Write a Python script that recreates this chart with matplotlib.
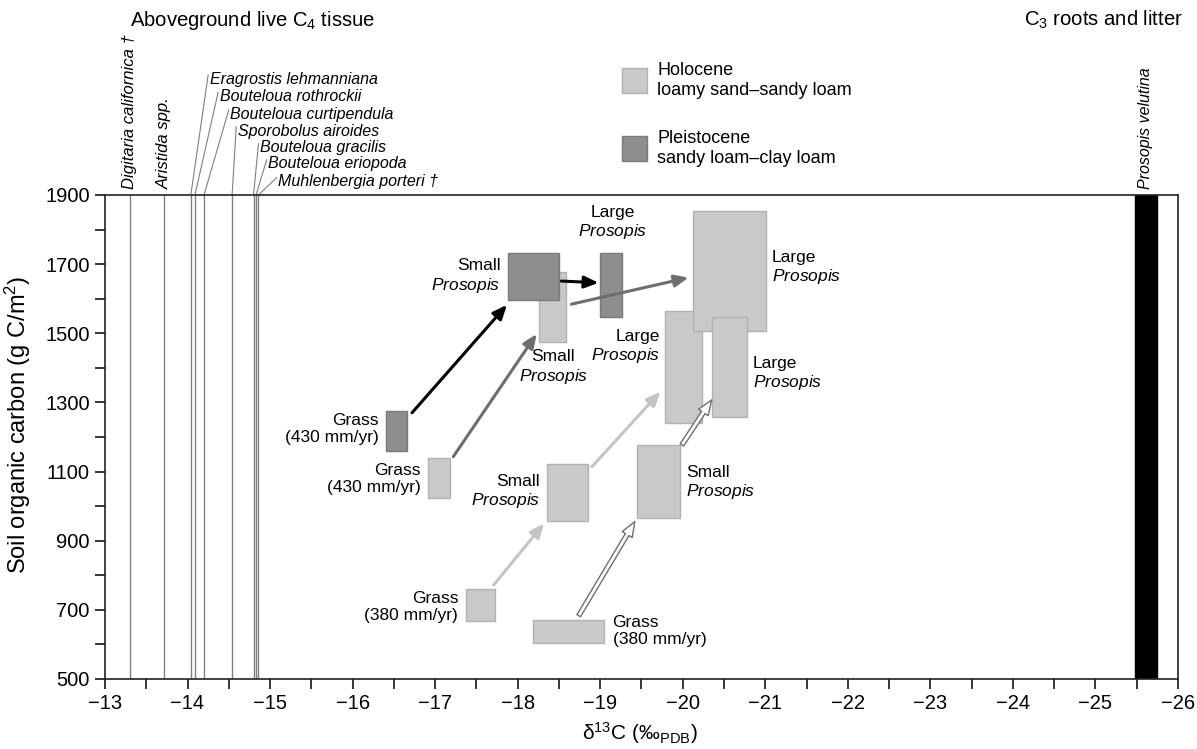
import matplotlib
matplotlib.use('Agg')
import matplotlib.pyplot as plt
from matplotlib.patches import Rectangle
from matplotlib.ticker import MultipleLocator, FixedLocator

plt.rcParams['font.family'] = ['Liberation Sans', 'DejaVu Sans']
plt.rcParams['mathtext.fontset'] = 'custom'
plt.rcParams['mathtext.rm'] = 'Liberation Sans'
plt.rcParams['mathtext.it'] = 'Liberation Sans:italic'

# C4 grass species: d13C line positions and label positions
species_names = ['Eragrostis lehmanniana', 'Bouteloua rothrockii', 'Bouteloua curtipendula',
                 'Sporobolus airoides', 'Bouteloua gracilis', 'Bouteloua eriopoda',
                 'Muhlenbergia porteri \u2020']
species_x = [-14.04, -14.09, -14.20, -14.54, -14.80, -14.83, -14.86]
species_label_x = [-14.27, -14.39, -14.52, -14.61, -14.88, -14.98, -15.10]
species_label_y = [2235, 2184, 2134, 2085, 2036, 1990, 1938]

rot_names = ['Digitaria californica \u2020', 'Aristida spp.']
rot_x = [-13.30, -13.72]

# C3 Prosopis velutina band
prosopis_band = [-25.48, -25.74]

# y ticks
y_major = [500, 700, 900, 1100, 1300, 1500, 1700, 1900]
y_minor = [600, 800, 1000, 1200, 1400, 1600, 1800]

# soil boxes: x range (d13C), y range (SOC), soil type
box_x0 = [-16.91, -16.40, -18.26, -17.88, -19.00, -18.36, -19.45, -17.37, -18.19, -19.78, -20.13, -20.35]
box_x1 = [-17.18, -16.66, -18.59, -18.50, -19.26, -18.85, -19.97, -17.72, -19.04, -20.23, -21.01, -20.78]
box_y0 = [1023, 1160, 1474, 1596, 1548, 958, 967, 669, 605, 1241, 1507, 1257]
box_y1 = [1138, 1276, 1678, 1733, 1733, 1122, 1177, 759, 671, 1564, 1854, 1548]
box_soil = ['H', 'P', 'H', 'P', 'P', 'H', 'H', 'H', 'H', 'H', 'H', 'H']

# box labels
lab_text = ['Small\n$\\it{Prosopis}$', 'Large\n$\\it{Prosopis}$', 'Small\n$\\it{Prosopis}$',
            'Large\n$\\it{Prosopis}$', 'Large\n$\\it{Prosopis}$', 'Large\n$\\it{Prosopis}$',
            'Small\n$\\it{Prosopis}$', 'Small\n$\\it{Prosopis}$',
            'Grass\n(430 mm/yr)', 'Grass\n(430 mm/yr)', 'Grass\n(380 mm/yr)', 'Grass\n(380 mm/yr)']
lab_x = [-17.79, -19.15, -18.43, -19.73, -21.08, -20.85, -20.04, -18.27, -16.32, -16.82, -17.28, -19.15]
lab_y = [1665, 1819, 1402, 1460, 1689, 1382, 1067, 1041, 1223, 1078, 708, 639]
lab_ha = ['right', 'center', 'center', 'right', 'left', 'left', 'left', 'right',
          'right', 'right', 'right', 'left']

# arrows: start, end, style
arr_x0 = [-16.72, -18.53, -17.22, -18.65, -17.71, -18.90, -18.74, -19.99]
arr_y0 = [1270, 1651, 1143, 1584, 772, 1114, 683, 1177]
arr_x1 = [-17.87, -18.98, -18.23, -20.07, -18.32, -19.73, -19.42, -20.35]
arr_y1 = [1582, 1646, 1498, 1661, 950, 1331, 955, 1307]
arr_kind = ['black', 'black', 'gray', 'gray', 'light', 'light', 'hollow', 'hollow']

fig = plt.figure(figsize=(11.97, 7.49), dpi=100)
ax = fig.add_axes([0.0877, 0.0935, 0.8964, 0.6462])

ax.set_xlim(-13, -26)
ax.set_ylim(500, 1900)

# species lines and labels
line_col = '#808080'
for x in species_x + rot_x:
    ax.plot([x, x], [500, 1900], color=line_col, lw=1, zorder=1)
for name, x in zip(rot_names, rot_x):
    ax.text(x, 1918, name, rotation=90, ha='center', va='bottom', fontsize=12,
            style='italic', clip_on=False)
for name, x, lx, ly in zip(species_names, species_x, species_label_x, species_label_y):
    ax.plot([x, lx + 0.02], [1900, ly + 12], color=line_col, lw=0.8, clip_on=False)
    ax.text(lx, ly, name, ha='left', va='center', fontsize=11.5, style='italic', clip_on=False)

ax.axvspan(prosopis_band[0], prosopis_band[1], color='black', zorder=2)
ax.text(sum(prosopis_band) / 2, 1918, 'Prosopis velutina', rotation=90, ha='center',
        va='bottom', fontsize=11.5, style='italic', clip_on=False)

soil_face = {'H': '#c9c9c9', 'P': '#8e8e8e'}
soil_edge = {'H': '#b2b2b2', 'P': '#7a7a7a'}
for x0, x1, y0, y1, s in zip(box_x0, box_x1, box_y0, box_y1, box_soil):
    ax.add_patch(Rectangle((x0, y0), x1 - x0, y1 - y0, facecolor=soil_face[s],
                           edgecolor=soil_edge[s], lw=1, zorder=3))

for t, x, y, ha in zip(lab_text, lab_x, lab_y, lab_ha):
    ax.text(x, y, t, ha=ha, va='center', multialignment=ha, fontsize=12.5, zorder=5)

arrow_props = {
    'black': dict(arrowstyle='-|>,head_length=0.7,head_width=0.3', color='black', lw=2.2),
    'gray': dict(arrowstyle='-|>,head_length=0.7,head_width=0.3', color='#6e6e6e', lw=2.2),
    'light': dict(arrowstyle='-|>,head_length=0.7,head_width=0.3', color='#c4c4c4', lw=2.2),
    'hollow': dict(arrowstyle='simple,head_length=0.9,head_width=0.7,tail_width=0.25',
                   facecolor='white', edgecolor='#6e6e6e', lw=1),
}
for x0, y0, x1, y1, k in zip(arr_x0, arr_y0, arr_x1, arr_y1, arr_kind):
    ax.annotate('', xy=(x1, y1), xytext=(x0, y0),
                arrowprops=dict(shrinkA=0, shrinkB=0, mutation_scale=12, **arrow_props[k]),
                zorder=4)

# axes styling
for sp in ax.spines.values():
    sp.set_linewidth(1.2)
    sp.set_color('#222222')
ax.xaxis.set_major_locator(MultipleLocator(1))
ax.xaxis.set_minor_locator(MultipleLocator(0.5))
ax.yaxis.set_major_locator(FixedLocator(y_major))
ax.yaxis.set_minor_locator(FixedLocator(y_minor))
ax.tick_params(which='both', direction='out', length=7, width=1.1, labelsize=14.5, pad=4)
ax.set_ylabel('Soil organic carbon (g C/m$^2$)', fontsize=17)
ax.yaxis.set_label_coords(-0.067, 0.525)
ax.set_xlabel('\u03b4$^{13}$C (\u2030$_{\\mathrm{PDB}}$)', fontsize=15)
ax.xaxis.set_label_coords(0.4986, -0.086)

# headings
fig.text(0.1086, 0.973, 'Aboveground live C$_4$ tissue', ha='left', va='center', fontsize=14.6)
fig.text(0.988, 0.973, 'C$_3$ roots and litter', ha='right', va='center', fontsize=14.6)

# legend
for yb, s, t in [(0.8758, 'H', 'Holocene\nloamy sand\u2013sandy loam'),
                 (0.785, 'P', 'Pleistocene\nsandy loam\u2013clay loam')]:
    fig.patches.append(Rectangle((0.5196, yb), 0.0209, 0.0334, transform=fig.transFigure,
                                 facecolor=soil_face[s], edgecolor=soil_edge[s], lw=1))
    fig.text(0.549, yb + 0.0167, t, ha='left', va='center', fontsize=13, linespacing=1.25)

fig.savefig('out.png', dpi=100)
